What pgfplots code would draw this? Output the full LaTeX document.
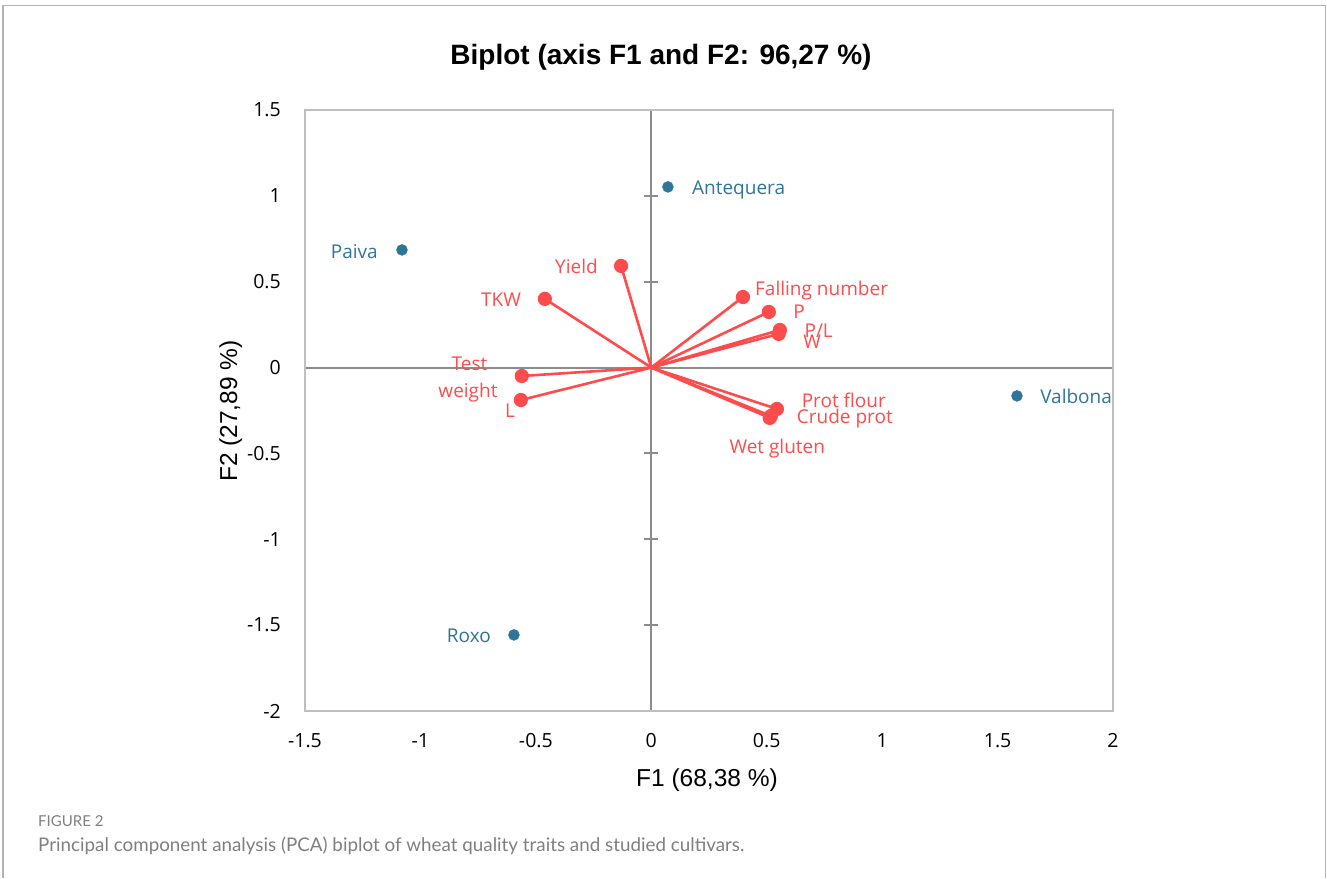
\documentclass[border=0pt]{standalone}
\usepackage{fontspec}
\setmainfont{Open Sans}
\newfontfamily\arialf{Liberation Sans}
\newfontfamily\capf{Lato}
\usepackage{pgfplots}
\pgfplotsset{compat=1.18}
\definecolor{vecred}{HTML}{FF4B4B}
\definecolor{obsblue}{HTML}{2E7598}
\definecolor{boxgray}{HTML}{BFBFBF}
\definecolor{zerogray}{HTML}{8C8C8C}
\definecolor{capgray}{HTML}{7F7F7F}
\newcommand{\lbl}{\fontsize{19bp}{23bp}\selectfont}
\newcommand{\tck}{\fontsize{19.5bp}{23bp}\selectfont}
\pgfplotsset{
  biplot/.style={at={(305bp,167bp)}, anchor=south west, scale only axis,
    width=808bp, height=601bp, xmin=-1.5, xmax=2, ymin=-2, ymax=1.5, clip=false},
  vec/.style={vecred, line width=2.6bp, mark=*, mark size=5.8bp, mark indices={2}, mark options={solid, fill=vecred}},
}
\begin{document}
\begin{tikzpicture}[x=1bp,y=1bp]
\useasboundingbox (0,0) rectangle (1327,878);
\draw[gray!60, line width=1.5bp] (3,0) -- (3,872.5) -- (1325.5,872.5) -- (1325.5,0);
% zero lines, crossing ticks on the vertical one only
\begin{axis}[biplot, axis lines=middle, axis line style={zerogray, line width=2bp, -},
  xtick=\empty, ytick={-2,-1.5,-1,-0.5,0,0.5,1,1.5},
  yticklabels={}, tick align=center, major tick length=14bp,
  tick style={zerogray, line width=2bp}]
\end{axis}
% main axis with data
\begin{axis}[biplot, axis line style={boxgray, line width=2bp},
  xtick={-1.5,-1,-0.5,0,0.5,1,1.5,2}, ytick={-2,-1.5,-1,-0.5,0,0.5,1,1.5},
  xticklabels={-1.5,-1,-0.5,0,0.5,1,1.5,2},
  yticklabels={-2,-1.5,-1,-0.5,0,0.5,1,1.5},
  major tick length=0, tick style={draw=none},
  xticklabel style={anchor=base, inner sep=0, yshift=-37bp, font=\tck},
  yticklabel style={anchor=east, inner sep=0, xshift=-24bp, font=\tck}]
% variables (vectors)
\addplot[vec] coordinates {(0,0) (-0.131,0.592)};  % Yield
\addplot[vec] coordinates {(0,0) (-0.461,0.400)};  % TKW
\addplot[vec] coordinates {(0,0) (-0.561,-0.049)}; % Test weight
\addplot[vec] coordinates {(0,0) (-0.565,-0.189)}; % L
\addplot[vec] coordinates {(0,0) (0.397,0.411)};   % Falling number
\addplot[vec] coordinates {(0,0) (0.509,0.324)};   % P
\addplot[vec] coordinates {(0,0) (0.557,0.219)};   % P/L
\addplot[vec] coordinates {(0,0) (0.552,0.196)};   % W
\addplot[vec] coordinates {(0,0) (0.544,-0.241)};  % Prot flour
\addplot[vec] coordinates {(0,0) (0.518,-0.282)};  % Crude prot
\addplot[vec] coordinates {(0,0) (0.513,-0.293)};  % Wet gluten
% observations
\addplot[only marks, mark=*, mark size=5.5bp, obsblue, mark options={fill=obsblue}]
  coordinates {(0.072,1.052) (-1.080,0.685) (1.584,-0.165) (-0.595,-1.557)};
% labels
\begin{scope}[every node/.style={inner sep=0, font=\lbl}]
\node[anchor=base west, text=obsblue] at (axis cs:0.176,1.005) {Antequera};
\node[anchor=base east, text=obsblue] at (axis cs:-1.184,0.638) {Paiva};
\node[anchor=base west, text=obsblue] at (axis cs:1.684,-0.212) {Valbona};
\node[anchor=base east, text=obsblue] at (axis cs:-0.694,-1.604) {Roxo};
\node[anchor=base east, text=vecred] at (axis cs:-0.231,0.545) {Yield};
\node[anchor=base east, text=vecred] at (axis cs:-0.564,0.353) {TKW};
\node[anchor=base, text=vecred] at (axis cs:-0.7875,-0.020) {Test};
\node[anchor=base, text=vecred] at (axis cs:-0.794,-0.177) {weight};
\node[anchor=base, text=vecred] at (axis cs:-0.612,-0.288) {L};
\node[anchor=base west, text=vecred] at (axis cs:0.449,0.417) {Falling number};
\node[anchor=base west, text=vecred] at (axis cs:0.615,0.287) {P};
\node[anchor=base west, text=vecred] at (axis cs:0.663,0.176) {P/L};
\node[anchor=base west, text=vecred] at (axis cs:0.658,0.112) {W};
\node[anchor=base west, text=vecred] at (axis cs:0.651,-0.231) {Prot flour};
\node[anchor=base west, text=vecred] at (axis cs:0.630,-0.324) {Crude prot};
\node[anchor=base west, text=vecred] at (axis cs:0.338,-0.503) {Wet gluten};
\end{scope}
\end{axis}
\node[anchor=base, font=\arialf\bfseries\fontsize{28bp}{32bp}\selectfont] at (661,813) {Biplot (axis F1 and F2: 96,27 \%)};
\node[anchor=base, font=\arialf\fontsize{24.5bp}{28bp}\selectfont] at (707,92) {F1 (68,38 \%)};
\node[anchor=base, rotate=90, font=\arialf\fontsize{24.5bp}{28bp}\selectfont] at (237,467) {F2 (27,89 \%)};
\node[anchor=base west, inner sep=0, text=capgray, font=\capf\fontsize{15bp}{18bp}\selectfont] at (38,52) {FIGURE 2};
\node[anchor=base west, inner sep=0, text=capgray, font=\capf\fontsize{18.8bp}{22bp}\selectfont] at (38,27) {Principal component analysis (PCA) biplot of wheat quality traits and studied cultivars.};
\end{tikzpicture}
\end{document}
